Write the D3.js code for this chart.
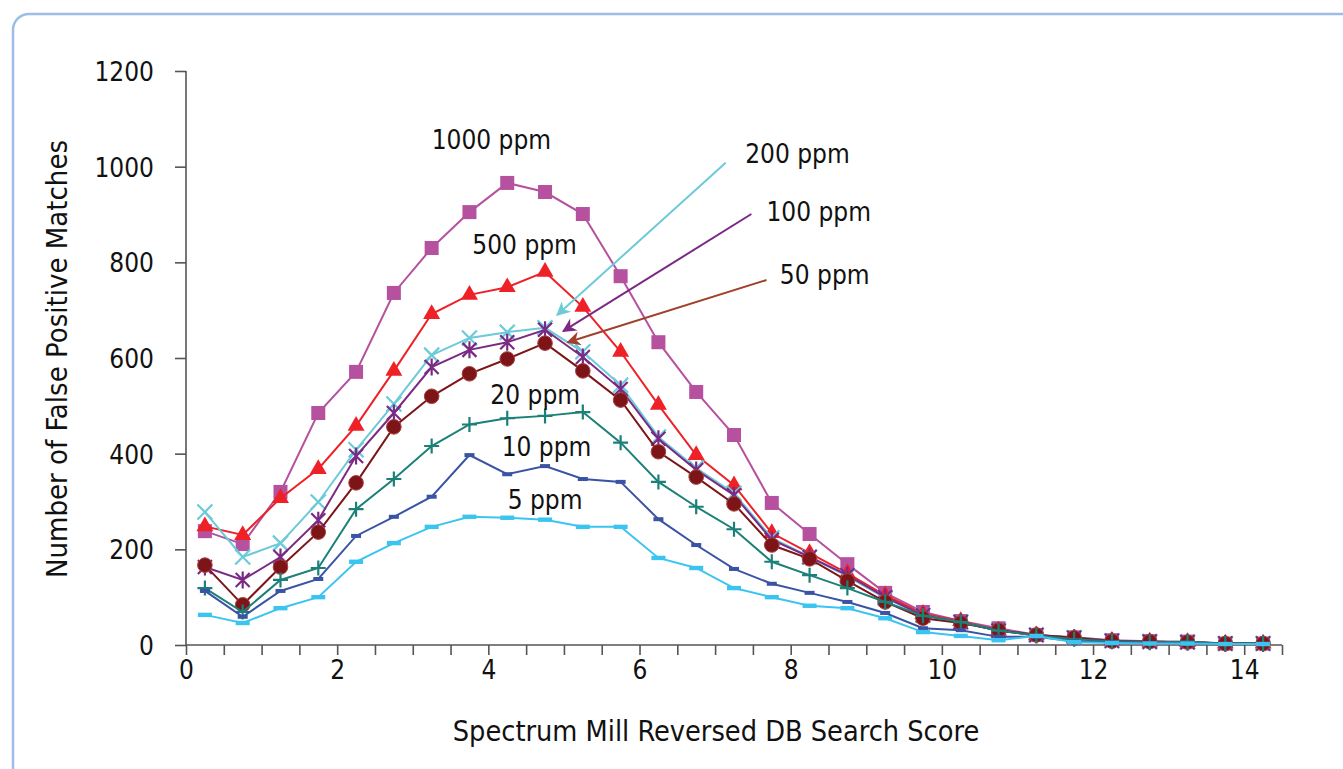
<!DOCTYPE html>
<html>
<head>
<meta charset="utf-8">
<script src="https://cdn.jsdelivr.net/npm/d3@7"></script>
<style>
  html, body { margin: 0; padding: 0; background: #fff; overflow: hidden; }
  svg { display: block; }
  text { font-family: "Liberation Sans Narrow", "DejaVu Sans Condensed", "Roboto", sans-serif; fill: #111; }
</style>
</head>
<body>
<div class="chart"></div>
<script>
// Puntos del eje x (centros de cada intervalo de score)
var scores = [0.25, 0.75, 1.25, 1.75, 2.25, 2.75, 3.25, 3.75, 4.25, 4.75, 5.25, 5.75, 6.25, 6.75, 7.25,
              7.75, 8.25, 8.75, 9.25, 9.75, 10.25, 10.75, 11.25, 11.75, 12.25, 12.75, 13.25, 13.75, 14.25];

var ppm1000 = [238, 211, 320, 485, 571, 736, 830, 905, 966, 947, 901, 771, 633, 529, 439, 297, 232, 169, 109, 69, 50, 35, 21, 16, 10, 8, 7, 3, 3];
var ppm500  = [248, 230, 307, 368, 458, 573, 692, 732, 748, 780, 707, 613, 502, 397, 334, 234, 192, 150, 104, 65, 50, 30, 20, 14, 9, 7, 6, 3, 3];
var ppm200  = [278, 184, 213, 299, 408, 504, 606, 642, 654, 663, 613, 543, 435, 370, 317, 224, 184, 144, 98, 62, 48, 30, 21, 15, 9, 7, 6, 3, 3];
var ppm100  = [163, 136, 184, 261, 395, 485, 581, 617, 633, 659, 602, 535, 431, 366, 313, 220, 184, 146, 100, 62, 48, 30, 21, 15, 9, 7, 6, 3, 3];
var ppm50   = [167, 84, 163, 236, 339, 456, 520, 567, 598, 631, 573, 512, 404, 351, 295, 209, 180, 134, 90, 56, 46, 31, 21, 15, 8, 7, 6, 3, 3];
var ppm20   = [119, 69, 136, 161, 284, 347, 416, 461, 474, 479, 487, 423, 341, 289, 242, 174, 146, 119, 90, 61, 48, 30, 20, 12, 8, 6, 7, 3, 3];
var ppm10   = [113, 59, 113, 138, 228, 268, 310, 397, 357, 374, 347, 341, 263, 209, 159, 128, 109, 90, 67, 35, 31, 17, 17, 8, 6, 4, 4, 2, 2];
var ppm5    = [63, 46, 77, 100, 174, 213, 247, 268, 266, 262, 247, 247, 182, 161, 119, 100, 82, 77, 56, 27, 19, 10, 19, 6, 4, 3, 3, 2, 2];

var yTicks = [0, 200, 400, 600, 800, 1000, 1200];
var xTicks = [0, 2, 4, 6, 8, 10, 12, 14];

// etiquetas dentro del grafico (posicion en unidades de datos)
var labels = [
    { text: "1000 ppm", x: 4.04, y: 1056 },
    { text: "500 ppm",  x: 4.48, y: 838 },
    { text: "20 ppm",   x: 4.62, y: 523 },
    { text: "10 ppm",   x: 4.77, y: 414 },
    { text: "5 ppm",    x: 4.75, y: 303 },
    { text: "200 ppm",  x: 8.09, y: 1027 },
    { text: "100 ppm",  x: 8.37, y: 907 },
    { text: "50 ppm",   x: 8.45, y: 774 }
];

var arrows = [
    { x1: 7.14, y1: 1008, x2: 4.91, y2: 690, color: "#6CCAD9" },
    { x1: 7.48, y1: 901,  x2: 4.99, y2: 656, color: "#7A2A85" },
    { x1: 7.68, y1: 763,  x2: 5.05, y2: 633, color: "#A0412B" }
];

var series = [
    { name: "1000 ppm", values: ppm1000, color: "#B5519E", marker: "square" },
    { name: "500 ppm",  values: ppm500,  color: "#EE2127", marker: "triangle" },
    { name: "200 ppm",  values: ppm200,  color: "#6CCAD9", marker: "x" },
    { name: "100 ppm",  values: ppm100,  color: "#7A2A85", marker: "star" },
    { name: "50 ppm",   values: ppm50,   color: "#7D1518", marker: "circle" },
    { name: "20 ppm",   values: ppm20,   color: "#1B8078", marker: "plus" },
    { name: "10 ppm",   values: ppm10,   color: "#3A53A4", marker: "dashS" },
    { name: "5 ppm",    values: ppm5,    color: "#3CC4F0", marker: "dashL" }
];

var width = 1343, height = 769;
var margin = { left: 186, top: 71, right: 61, bottom: 124 };

var svg = d3.select(".chart").append("svg")
    .attr("width", width)
    .attr("height", height);

// marco azul redondeado
svg.append("rect")
    .attr("x", 13).attr("y", 14)
    .attr("width", width + 40).attr("height", height + 40)
    .attr("rx", 16).attr("ry", 16)
    .attr("fill", "none")
    .attr("stroke", "#9DBDE6")
    .attr("stroke-width", 2.5);

var x = d3.scaleLinear().domain([0, 14.5]).range([margin.left, width - margin.right]);
var y = d3.scaleLinear().domain([0, 1200]).range([height - margin.bottom, margin.top]);

// Eje y
var yAxis = svg.append("g")
    .attr("transform", "translate(" + margin.left + ",0)")
    .call(d3.axisLeft(y).tickValues(yTicks).tickSize(11).tickPadding(21).tickFormat(d3.format("d")));
// Eje x (marcas cada 0.5)
var xAxis = svg.append("g")
    .attr("transform", "translate(0," + y(0) + ")")
    .call(d3.axisBottom(x).tickValues(d3.range(0, 14.51, 0.5)).tickSize(10).tickPadding(6)
        .tickFormat(function(d) { return xTicks.indexOf(d) >= 0 ? d : ""; }));

svg.selectAll(".domain").attr("stroke", "#555").attr("stroke-width", 1.6);
svg.selectAll(".tick line").attr("stroke", "#555").attr("stroke-width", 1.6);
yAxis.selectAll(".domain").attr("d", "M0," + y(1200) + "V" + y(0));
yAxis.selectAll("text").style("font-size", "26px").attr("fill", "#111").attr("dy", "0.36em");
xAxis.selectAll(".domain").attr("d", "M" + x(0) + ",0H" + x(14.5));
xAxis.selectAll("text").style("font-size", "26px").attr("fill", "#111");

// titulos de los ejes
svg.append("text")
    .attr("x", 716).attr("y", 741)
    .attr("text-anchor", "middle")
    .style("font-size", "28.6px")
    .text("Spectrum Mill Reversed DB Search Score");

svg.append("text")
    .attr("transform", "translate(67," + 359 + ") rotate(-90)")
    .attr("text-anchor", "middle")
    .style("font-size", "29px")
    .text("Number of False Positive Matches");

var line = d3.line()
    .x(function(d, i) { return x(scores[i]); })
    .y(function(d) { return y(d); });

// dibuja un marcador segun el tipo
function drawMarker(g, type, color, px, py) {
    if (type === "square") {
        g.append("rect").attr("x", px - 7).attr("y", py - 7).attr("width", 14).attr("height", 14).attr("fill", color);
    } else if (type === "triangle") {
        g.append("path").attr("transform", "translate(" + px + "," + py + ")")
            .attr("d", d3.symbol().type(d3.symbolTriangle).size(125)()).attr("fill", color);
    } else if (type === "circle") {
        g.append("circle").attr("cx", px).attr("cy", py).attr("r", 7.3)
            .attr("fill", color).attr("stroke", "#A8403F").attr("stroke-width", 1);
    } else if (type === "x") {
        g.append("path").attr("d", "M" + (px - 7.5) + "," + (py - 7.5) + "L" + (px + 7.5) + "," + (py + 7.5) +
            "M" + (px - 7.5) + "," + (py + 7.5) + "L" + (px + 7.5) + "," + (py - 7.5))
            .attr("stroke", color).attr("stroke-width", 2.2);
    } else if (type === "star") {
        g.append("path").attr("d", "M" + (px - 7) + "," + (py - 7) + "L" + (px + 7) + "," + (py + 7) +
            "M" + (px - 7) + "," + (py + 7) + "L" + (px + 7) + "," + (py - 7) +
            "M" + px + "," + (py - 8.5) + "L" + px + "," + (py + 8.5))
            .attr("stroke", color).attr("stroke-width", 2.2);
    } else if (type === "plus") {
        g.append("path").attr("d", "M" + (px - 7.5) + "," + py + "L" + (px + 7.5) + "," + py +
            "M" + px + "," + (py - 7.5) + "L" + px + "," + (py + 7.5))
            .attr("stroke", color).attr("stroke-width", 2.2);
    } else if (type === "dashS") {
        g.append("rect").attr("x", px - 5).attr("y", py - 2).attr("width", 10).attr("height", 4).attr("fill", color);
    } else if (type === "dashL") {
        g.append("rect").attr("x", px - 7).attr("y", py - 2.2).attr("width", 14).attr("height", 4.4).attr("fill", color);
    }
}

series.forEach(function(s) {
    var g = svg.append("g").attr("class", "serie");
    g.append("path")
        .datum(s.values)
        .attr("d", line)
        .attr("fill", "none")
        .attr("stroke", s.color)
        .attr("stroke-width", 2);
    s.values.forEach(function(v, i) {
        drawMarker(g, s.marker, s.color, x(scores[i]), y(v));
    });
});

// Flechas
var defs = svg.append("defs");
arrows.forEach(function(a, i) {
    defs.append("marker")
        .attr("id", "arrow" + i)
        .attr("viewBox", "0 0 10 10")
        .attr("refX", 9).attr("refY", 5)
        .attr("markerWidth", 18).attr("markerHeight", 14)
        .attr("markerUnits", "userSpaceOnUse")
        .attr("orient", "auto")
        .append("path")
        .attr("d", "M0,0L10,5L0,10L3,5Z")
        .attr("fill", a.color);
    svg.append("line")
        .attr("x1", x(a.x1)).attr("y1", y(a.y1))
        .attr("x2", x(a.x2)).attr("y2", y(a.y2))
        .attr("stroke", a.color)
        .attr("stroke-width", 2)
        .attr("marker-end", "url(#arrow" + i + ")");
});

svg.selectAll("text.lbl")
    .data(labels)
    .enter().append("text")
    .attr("class", "lbl")
    .attr("x", function(d) { return x(d.x); })
    .attr("y", function(d) { return y(d.y); })
    .attr("dy", "0.36em")
    .attr("text-anchor", "middle")
    .style("font-size", "26px")
    .text(function(d) { return d.text; });
</script>
</body>
</html>
